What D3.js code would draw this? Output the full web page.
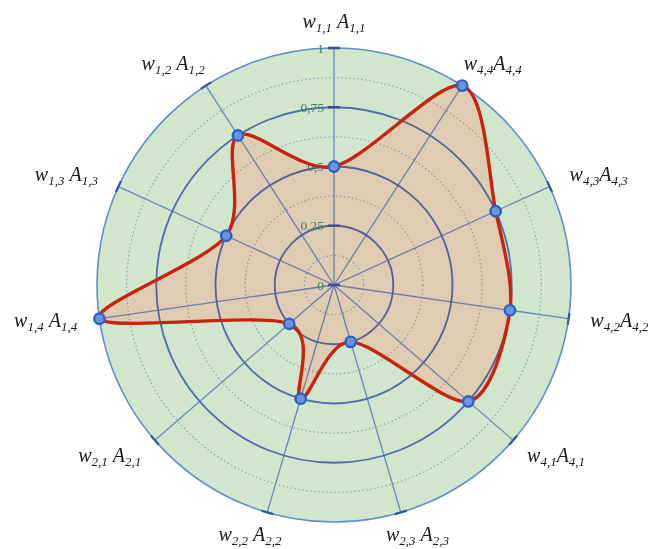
<!DOCTYPE html>
<html><head><meta charset="utf-8">
<script src="https://cdn.jsdelivr.net/npm/d3@7"></script>
<style>html,body{margin:0;padding:0;background:#fff;}svg{display:block;}</style>
</head><body>
<svg id="chart" width="648" height="549"></svg>
<script>
// axis labels clockwise from top
const labels = ["w_{1,1} A_{1,1}", "w_{4,4}A_{4,4}", "w_{4,3}A_{4,3}", "w_{4,2}A_{4,2}", "w_{4,1}A_{4,1}",
  "w_{2,3} A_{2,3}", "w_{2,2} A_{2,2}", "w_{2,1} A_{2,1}", "w_{1,4} A_{1,4}", "w_{1,3} A_{1,3}", "w_{1,2} A_{1,2}"];
const values = [0.5, 1.0, 0.75, 0.75, 0.75, 0.25, 0.5, 0.25, 1.0, 0.5, 0.75];
const tickValues = [0, 0.25, 0.5, 0.75, 1];
const tickLabels = ["0", "0,25", "0,5", "0,75", "1"];
const minorValues = [0.125, 0.375, 0.625, 0.875];

const svg = d3.select("#chart");
const cx = 334, cy = 285, R = 237;
const r = d3.scaleLinear().domain([0, 1]).range([0, R]);
const ang = d3.scaleLinear().domain([0, labels.length]).range([0, 2 * Math.PI]);
const g = svg.append("g").attr("transform", `translate(${cx},${cy})`);
const px = (i, v) => r(v) * Math.sin(ang(i));
const py = (i, v) => -r(v) * Math.cos(ang(i));

// background disc
g.append("circle").attr("r", r(1)).attr("fill", "#d0e6cd");

// data fill (opaque tan), grid is multiplied on top
const line = d3.lineRadial().angle((d, i) => ang(i)).radius(d => r(d)).curve(d3.curveCardinalClosed.tension(0.12));
g.append("path").datum(values).attr("d", line).attr("fill", "#decdb3");

const grid = g.append("g").style("mix-blend-mode", "multiply");
grid.selectAll(".minor").data(minorValues).join("circle")
  .attr("r", d => r(d)).attr("fill", "none").attr("stroke", "#a3b8e6")
  .attr("stroke-width", 1.2).attr("stroke-dasharray", "1.5,2.5");
grid.selectAll(".spoke").data(labels).join("line")
  .attr("x1", 0).attr("y1", 0)
  .attr("x2", (d, i) => px(i, 1)).attr("y2", (d, i) => py(i, 1))
  .attr("stroke", "#7c9bec").attr("stroke-width", 1.3);
grid.selectAll(".major").data(tickValues.slice(1, 4)).join("circle")
  .attr("r", d => r(d)).attr("fill", "none").attr("stroke", "#5f7ad3")
  .attr("stroke-width", 1.8);

// outer circle
g.append("circle").attr("r", r(1)).attr("fill", "none").attr("stroke", "#5f8fcb").attr("stroke-width", 1.6);

// outer ticks on each axis
g.selectAll(".otick").data(labels).join("line")
  .attr("x1", -6).attr("x2", 6).attr("y1", 0).attr("y2", 0)
  .attr("transform", (d, i) => `translate(${px(i, 1)},${py(i, 1)}) rotate(${ang(i) * 180 / Math.PI})`)
  .attr("stroke", "#2f56a0").attr("stroke-width", 2.2);

// ticks on top axis
g.selectAll(".vtick").data(tickValues).join("line")
  .attr("x1", -6).attr("x2", 6)
  .attr("y1", d => -r(d)).attr("y2", d => -r(d))
  .attr("stroke", "#454d92").attr("stroke-width", 2.5);
g.selectAll(".vlab").data(tickValues).join("text")
  .attr("x", -10).attr("y", d => -r(d) + 4.5)
  .attr("text-anchor", "end")
  .attr("font-family", "Liberation Serif, serif").attr("font-size", 13.5)
  .attr("fill", "#3d8060")
  .text((d, i) => tickLabels[i]);

// data curve
g.append("path").datum(values).attr("d", line).attr("fill", "none")
  .attr("stroke", "#c9220e").attr("stroke-width", 3.4);

// points
g.selectAll(".pt").data(values).join("circle")
  .attr("cx", (d, i) => px(i, d)).attr("cy", (d, i) => py(i, d))
  .attr("r", 5.2).attr("fill", "#6d94da").attr("stroke", "#2c62c6").attr("stroke-width", 2.4);

// axis labels
labels.forEach((lab, i) => {
  const m = lab.match(/^(\w)_\{([^}]*)\}(\s*)(\w)_\{([^}]*)\}$/);
  const t = g.append("text")
    .attr("font-family", "Liberation Serif, serif").attr("font-style", "italic")
    .attr("font-size", 20).attr("fill", "#1a1a1a").attr("text-anchor", "start");
  t.append("tspan").text(m[1]);
  t.append("tspan").attr("font-size", 13).attr("dy", 4).text(m[2]);
  t.append("tspan").attr("dy", -4).text((m[3] ? "\u00a0" : "") + m[4]);
  t.append("tspan").attr("font-size", 13).attr("dy", 4).text(m[5]);
  const w = t.node().getBBox().width;
  const a = ang(i), s = Math.sin(a), c = Math.cos(a);
  const frac = Math.max(0, Math.min(1, 0.5 - 0.6 * s));
  const x = 259 * s - frac * w;
  const yc = -254 * c - 8 * c;
  t.attr("x", x).attr("y", yc + 5);
});
</script>
</body></html>
